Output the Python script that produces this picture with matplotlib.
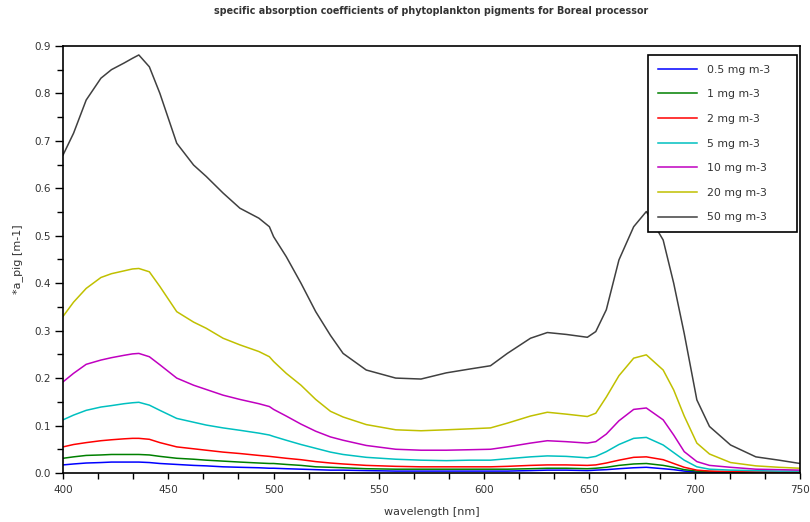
import matplotlib
matplotlib.use('Agg')
import matplotlib.pyplot as plt
from matplotlib.ticker import MultipleLocator, AutoMinorLocator

# wavelength grid [nm]
wl = [400, 405, 411, 418, 423, 429, 433, 436, 441, 446,
      454, 462, 468, 476, 484, 493, 498, 500, 506, 513,
      520, 527, 533, 544, 558, 570, 582, 593, 603, 611,
      622, 630, 639, 649, 653, 658, 664, 671, 677, 685,
      690, 695, 701, 707, 717, 729, 740, 750]

labels = ['0.5 mg m-3', '1 mg m-3', '2 mg m-3', '5 mg m-3', '10 mg m-3', '20 mg m-3', '50 mg m-3']
colors = ['#0000ff', '#008000', '#ff0000', '#00c0c0', '#c000c0', '#c0c000', '#404040']

c05 = [0.017, 0.019, 0.021, 0.022, 0.023, 0.023, 0.023, 0.023, 0.022, 0.020,
       0.018, 0.016, 0.015, 0.013, 0.012, 0.011, 0.010, 0.010, 0.009, 0.008,
       0.007, 0.006, 0.006, 0.005, 0.004, 0.004, 0.004, 0.004, 0.004, 0.004,
       0.005, 0.006, 0.006, 0.005, 0.006, 0.007, 0.009, 0.011, 0.012, 0.009,
       0.007, 0.004, 0.002, 0.002, 0.001, 0.001, 0.001, 0.001]
c1 = [0.031, 0.034, 0.037, 0.038, 0.039, 0.039, 0.039, 0.039, 0.038, 0.035,
      0.031, 0.029, 0.027, 0.025, 0.023, 0.021, 0.020, 0.020, 0.018, 0.016,
      0.013, 0.012, 0.011, 0.009, 0.008, 0.008, 0.008, 0.008, 0.008, 0.008,
      0.009, 0.010, 0.010, 0.009, 0.010, 0.012, 0.016, 0.019, 0.020, 0.016,
      0.012, 0.007, 0.004, 0.003, 0.002, 0.001, 0.001, 0.001]
c2 = [0.055, 0.060, 0.064, 0.068, 0.070, 0.072, 0.073, 0.073, 0.071, 0.064,
      0.055, 0.051, 0.048, 0.044, 0.041, 0.037, 0.035, 0.034, 0.031, 0.028,
      0.024, 0.021, 0.019, 0.016, 0.014, 0.013, 0.013, 0.013, 0.013, 0.014,
      0.016, 0.017, 0.017, 0.016, 0.017, 0.021, 0.027, 0.033, 0.034, 0.028,
      0.020, 0.012, 0.006, 0.004, 0.003, 0.002, 0.002, 0.002]
c5 = [0.112, 0.122, 0.132, 0.139, 0.142, 0.146, 0.148, 0.149, 0.143, 0.132,
      0.115, 0.107, 0.101, 0.095, 0.090, 0.084, 0.080, 0.077, 0.069, 0.060,
      0.052, 0.044, 0.039, 0.033, 0.029, 0.027, 0.026, 0.027, 0.027, 0.030,
      0.034, 0.036, 0.035, 0.032, 0.035, 0.045, 0.060, 0.073, 0.075, 0.059,
      0.043, 0.027, 0.013, 0.008, 0.006, 0.005, 0.004, 0.004]
c10 = [0.192, 0.210, 0.229, 0.238, 0.243, 0.248, 0.251, 0.252, 0.245, 0.228,
       0.200, 0.185, 0.176, 0.164, 0.155, 0.146, 0.140, 0.134, 0.120, 0.103,
       0.088, 0.076, 0.069, 0.058, 0.050, 0.048, 0.048, 0.049, 0.050, 0.055,
       0.063, 0.068, 0.066, 0.063, 0.066, 0.082, 0.110, 0.134, 0.137, 0.112,
       0.080, 0.045, 0.024, 0.016, 0.012, 0.008, 0.007, 0.006]
c20 = [0.330, 0.360, 0.389, 0.412, 0.420, 0.426, 0.430, 0.431, 0.424, 0.393,
       0.340, 0.318, 0.305, 0.284, 0.270, 0.256, 0.245, 0.235, 0.210, 0.185,
       0.155, 0.130, 0.118, 0.102, 0.091, 0.089, 0.091, 0.093, 0.095, 0.105,
       0.120, 0.128, 0.124, 0.119, 0.126, 0.160, 0.205, 0.242, 0.249, 0.217,
       0.175, 0.120, 0.063, 0.040, 0.022, 0.015, 0.012, 0.010]
c50 = [0.670, 0.716, 0.786, 0.832, 0.850, 0.864, 0.874, 0.881, 0.856, 0.800,
       0.695, 0.649, 0.625, 0.590, 0.558, 0.537, 0.519, 0.498, 0.456, 0.400,
       0.340, 0.290, 0.252, 0.217, 0.200, 0.198, 0.211, 0.219, 0.226, 0.252,
       0.284, 0.296, 0.292, 0.286, 0.298, 0.344, 0.449, 0.519, 0.551, 0.491,
       0.400, 0.294, 0.154, 0.098, 0.059, 0.034, 0.027, 0.020]
series = [c05, c1, c2, c5, c10, c20, c50]

plt.rcParams['font.family'] = 'DejaVu Sans'
fig = plt.figure(figsize=(8.1, 5.22), dpi=100)
ax = fig.add_axes([0.0778, 0.0939, 0.9099, 0.8181])

for y, lab, col in zip(series, labels, colors):
    ax.plot(wl, y, color=col, lw=1.1, label=lab)

ax.set_xlim(400, 750)
ax.set_ylim(0, 0.9)
ax.xaxis.set_major_locator(MultipleLocator(50))
ax.xaxis.set_minor_locator(AutoMinorLocator(3))
ax.yaxis.set_major_locator(MultipleLocator(0.1))
ax.yaxis.set_minor_locator(AutoMinorLocator(2))
ax.yaxis.set_major_formatter(plt.FormatStrFormatter('%.1f'))
ax.tick_params(axis='x', which='major', length=4.5, width=1, pad=4)
ax.tick_params(axis='x', which='minor', length=4, width=1)
ax.tick_params(axis='y', which='major', length=6, width=1, pad=3)
ax.tick_params(axis='y', which='minor', length=4.5, width=1)
ax.tick_params(which='major', labelsize=7.5, labelcolor='#333333')
for s in ax.spines.values():
    s.set_linewidth(1.2)

ax.set_xlabel('wavelength [nm]', fontsize=8, color='#333333', labelpad=9)
ax.set_ylabel('*a_pig [m-1]', fontsize=8, color='#333333', labelpad=8)
ax.set_title('specific absorption coefficients of phytoplankton pigments for Boreal processor',
             fontsize=6.9, fontweight='bold', color='#333333', pad=23)

leg = ax.legend(loc='upper left', bbox_to_anchor=(0.794, 0.0, 0.202, 0.979), mode='expand',
                borderaxespad=0, fontsize=7.8, handlelength=3.6, labelspacing=1.35,
                fancybox=False, framealpha=1, edgecolor='black', borderpad=0.9,
                handletextpad=0.9)
leg.get_frame().set_linewidth(1.2)
for t in leg.get_texts():
    t.set_color('#333333')

fig.savefig('out.png', dpi=100)
